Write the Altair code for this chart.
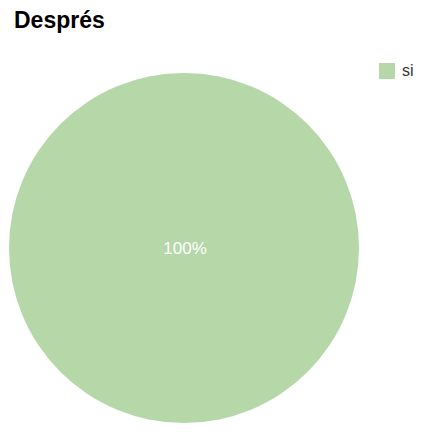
import altair as alt
import pandas as pd

categories = ["si"]
values = [100]
labels = ["100%"]

df = pd.DataFrame({"cat": categories, "val": values, "label": labels})

base = alt.Chart(df).encode(
    theta=alt.Theta("val:Q", stack=True),
)

pie = base.mark_arc(radius=175, stroke=None).encode(
    x=alt.value(176),
    y=alt.value(190),
    color=alt.Color(
        "cat:N",
        scale=alt.Scale(domain=categories, range=["#b6d7a8"]),
        legend=alt.Legend(
            title=None,
            orient="none",
            legendX=371,
            legendY=5,
            symbolType="square",
            symbolSize=256,
            symbolStrokeWidth=0,
            symbolOpacity=1,
            labelFontSize=16,
            labelFont="Liberation Sans",
            labelColor="#333333",
            labelOffset=7,
            labelLimit=40,
        ),
    ),
)

text = alt.Chart(df).mark_text(
    font="Liberation Sans",
    fontSize=17,
    color="#ffffff",
    align="center",
    baseline="middle",
).encode(
    x=alt.value(177),
    y=alt.value(191),
    text="label:N",
)

chart = alt.layer(pie, text).properties(
    width=408,
    height=374,
    padding={"left": 0, "top": 50, "right": 0, "bottom": 0},
    autosize=alt.AutoSizeParams(type="none"),
    title=alt.TitleParams(
        text="Després",
        anchor="start",
        font="Liberation Sans",
        fontSize=23,
        fontWeight="bold",
        color="#000000",
        dx=6,
        offset=25,
    ),
).configure_view(stroke=None)

chart.save("out.html", embed_options={"renderer": "svg", "actions": False})
